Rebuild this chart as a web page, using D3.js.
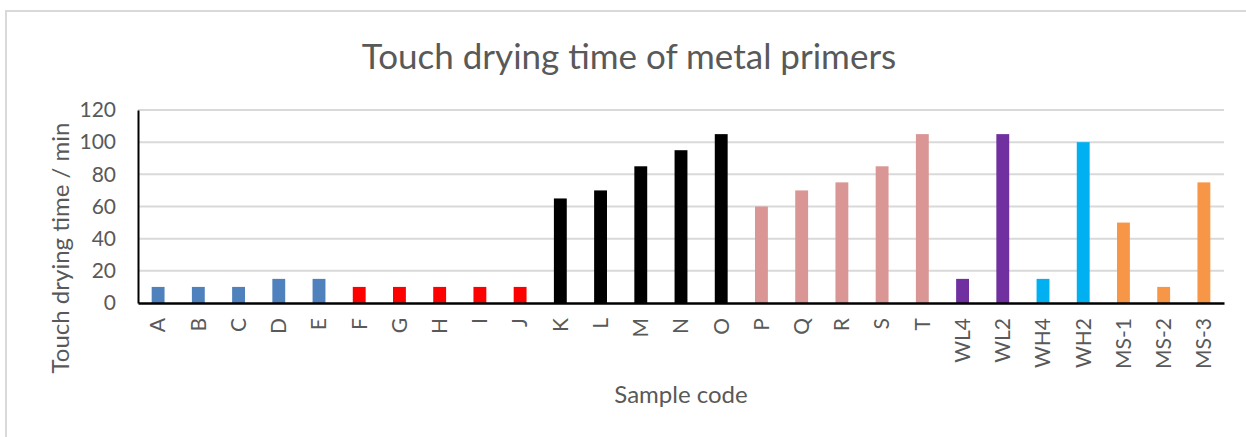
<!DOCTYPE html>
<html>
<head>
<meta charset="utf-8">
<script src="https://cdn.jsdelivr.net/npm/d3@7"></script>
<style>
  body { margin: 0; background: #fff; }
  text { font-family: Lato, "Open Sans", sans-serif; fill: #595959; }
</style>
</head>
<body>
<svg width="1246" height="437"></svg>
<script>
// sample codes and drying times (min)
var categories = ["A","B","C","D","E","F","G","H","I","J","K","L","M","N","O",
                  "P","Q","R","S","T","WL4","WL2","WH4","WH2","MS-1","MS-2","MS-3"];
var values = [10,10,10,15,15,10,10,10,10,10,65,70,85,95,105,
              60,70,75,85,105,15,105,15,100,50,10,75];
var groups = ["blue","blue","blue","blue","blue","red","red","red","red","red",
              "black","black","black","black","black","pink","pink","pink","pink","pink",
              "purple","purple","cyan","cyan","orange","orange","orange"];
var yTicks = [0,20,40,60,80,100,120];

var colors = {blue:"#4F81BD", red:"#FF0000", black:"#000000", pink:"#D99694",
              purple:"#7030A0", cyan:"#00B0F0", orange:"#F79646"};

var svg = d3.select("svg"),
    margin = {top: 110, right: 22, bottom: 134, left: 138},
    width = 1246 - margin.left - margin.right,
    height = 437 - margin.top - margin.bottom;

// chart border
svg.append("rect")
    .attr("x", 6).attr("y", 11)
    .attr("width", 1246).attr("height", 440)
    .attr("fill", "none")
    .attr("stroke", "#d9d9d9")
    .attr("stroke-width", 2);

var data = categories.map(function(c, i) {
  return {code: c, value: values[i], group: groups[i]};
});

var x = d3.scaleBand()
    .domain(categories)
    .range([0, width])
    .paddingInner(0.68)
    .paddingOuter(0.34);

var y = d3.scaleLinear()
    .domain([0, 120])
    .range([height, 0]);

var g = svg.append("g")
    .attr("transform", "translate(" + margin.left + "," + margin.top + ")");

// gridlines
g.append("g")
  .selectAll("line")
  .data(yTicks.slice(1))
  .enter().append("line")
    .attr("x1", 0).attr("x2", width)
    .attr("y1", d => y(d)).attr("y2", d => y(d))
    .attr("stroke", "#d9d9d9")
    .attr("stroke-width", 2);

// bars
g.selectAll("rect.bar")
  .data(data)
  .enter().append("rect")
    .attr("class", "bar")
    .attr("x", d => x(d.code))
    .attr("width", x.bandwidth())
    .attr("y", d => y(d.value))
    .attr("height", d => height - y(d.value))
    .attr("fill", d => colors[d.group]);

// y axis
var yAxis = g.append("g")
    .call(d3.axisLeft(y).tickValues(yTicks).tickSize(0).tickPadding(22));
yAxis.select(".domain").attr("stroke", "#000").attr("stroke-width", 2);
yAxis.selectAll("text").style("font-size", "21px").attr("fill", "#595959");

// x axis
var xAxis = g.append("g")
    .attr("transform", "translate(0," + height + ")")
    .call(d3.axisBottom(x).tickSize(0).tickPadding(0));
xAxis.select(".domain").attr("stroke", "#000").attr("stroke-width", 2.5);
xAxis.selectAll("text")
    .style("font-size", "21px")
    .attr("fill", "#595959")
    .attr("text-anchor", "end")
    .attr("dy", "0.35em")
    .attr("transform", "translate(0,15) rotate(-90)")
    .attr("x", 0).attr("y", 0);

// title
svg.append("text")
    .attr("x", 629).attr("y", 69)
    .attr("text-anchor", "middle")
    .style("font-size", "35px")
    .text("Touch drying time of metal primers");

// axis titles
svg.append("text")
    .attr("transform", "translate(69," + 248 + ") rotate(-90)")
    .attr("text-anchor", "middle")
    .style("font-size", "24px")
    .text("Touch drying time / min");

svg.append("text")
    .attr("x", margin.left + width / 2).attr("y", 403)
    .attr("text-anchor", "middle")
    .style("font-size", "24px")
    .text("Sample code");
</script>
</body>
</html>
